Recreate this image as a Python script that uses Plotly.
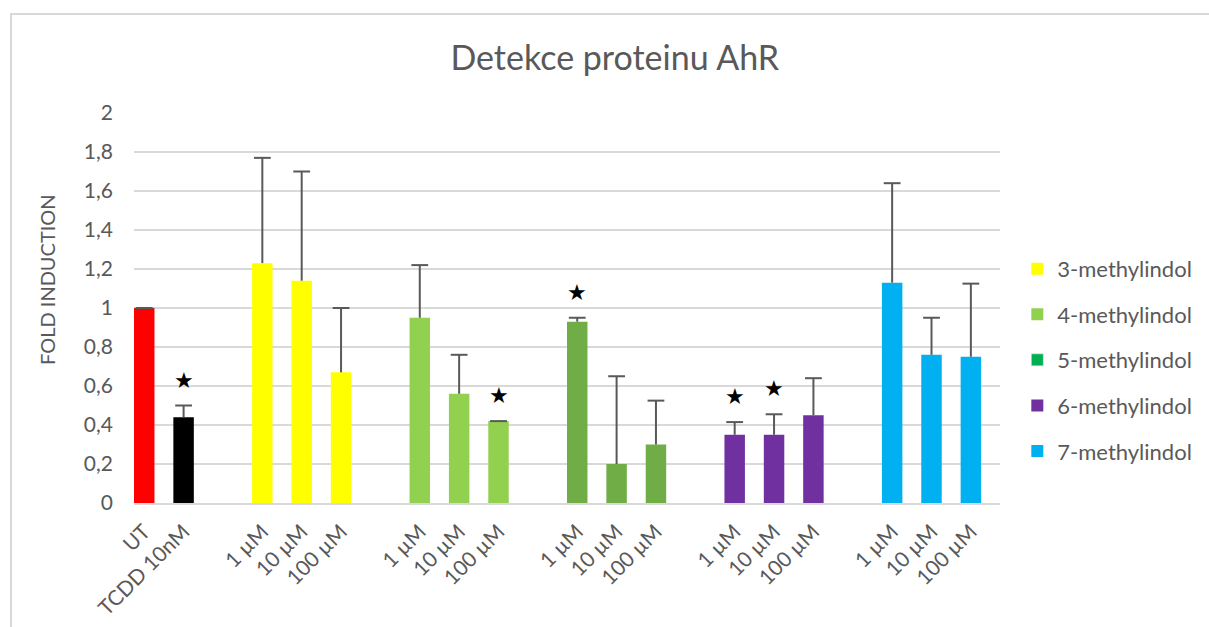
import plotly.graph_objects as go

# Controls
ctrl_labels = ["UT", "TCDD 10nM"]
ctrl_values = [1.00, 0.44]
ctrl_err_top = [1.00, 0.50]
ctrl_colors = ["#FF0000", "#000000"]

# Concentration series (one group of three bars per compound)
conc_labels = ["1 µM", "10 µM", "100 µM"]
series_names = ["3-methylindol", "4-methylindol", "5-methylindol", "6-methylindol", "7-methylindol"]
values_3 = [1.23, 1.14, 0.67]
values_4 = [0.95, 0.56, 0.42]
values_5 = [0.93, 0.20, 0.30]
values_6 = [0.35, 0.35, 0.45]
values_7 = [1.13, 0.76, 0.75]
err_top_3 = [1.77, 1.70, 1.00]
err_top_4 = [1.22, 0.76, 0.42]
err_top_5 = [0.95, 0.65, 0.525]
err_top_6 = [0.415, 0.455, 0.64]
err_top_7 = [1.64, 0.95, 1.125]

# Significance markers: (series index or "ctrl", bar index)
significant = [("ctrl", 1), (1, 2), (2, 0), (3, 0), (3, 1)]

bar_colors = ["#FFFF00", "#92D050", "#70AD47", "#7030A0", "#00B0F0"]
legend_colors = ["#FFFF00", "#92D050", "#00B050", "#7030A0", "#00B0F0"]

all_values = [values_3, values_4, values_5, values_6, values_7]
all_err = [err_top_3, err_top_4, err_top_5, err_top_6, err_top_7]

TXT = "#595959"
ERR = "#595959"
FONT = "Lato"
BAR_W = 0.52

fig = go.Figure()

# x positions: controls at 0,1; each compound group after a one-slot gap
ctrl_x = [0, 1]
group_x = [[3 + 4 * g + i for i in range(3)] for g in range(5)]

# upward whisker only (no caps from the error bar itself; the cap is a marker)
err_style = dict(type="data", symmetric=False, color=ERR, thickness=2, width=0)


def add_bars(x, vals, tops, colors, name, showlegend):
    fig.add_trace(go.Bar(
        x=x, y=vals, width=BAR_W, name=name,
        marker=dict(color=colors, line=dict(width=0)),
        error_y=dict(array=[t - v for t, v in zip(tops, vals)],
                     arrayminus=[0] * len(vals), **err_style),
        showlegend=showlegend, legendgroup=name, hoverinfo="skip",
    ))


def add_caps(x, tops):
    fig.add_trace(go.Scatter(
        x=x, y=tops, mode="markers", showlegend=False, hoverinfo="skip",
        marker=dict(symbol="line-ew", size=12, line=dict(color=ERR, width=2)),
    ))


add_bars(ctrl_x, ctrl_values, ctrl_err_top, ctrl_colors, "controls", False)

for g, name in enumerate(series_names):
    same = bar_colors[g] == legend_colors[g]
    if not same:
        # legend swatch with its own colour
        fig.add_trace(go.Bar(
            x=[None], y=[None], name=name, marker=dict(color=legend_colors[g]),
            legendgroup=name, showlegend=True,
        ))
    add_bars(group_x[g], all_values[g], all_err[g], bar_colors[g], name, same)

add_caps(ctrl_x, ctrl_err_top)
for g in range(5):
    add_caps(group_x[g], all_err[g])

# stars above significant bars
for s, i in significant:
    if s == "ctrl":
        xs, top = ctrl_x[i], ctrl_err_top[i]
    else:
        xs, top = group_x[s][i], all_err[s][i]
    fig.add_annotation(x=xs, y=top + 0.13, text="★", showarrow=False,
                       font=dict(family="DejaVu Sans", size=22, color="#000000"),
                       xref="x", yref="y")

# y-axis title
fig.add_annotation(x=(47 - 134) / 866, y=(503 - 280) / 390, xref="paper", yref="paper",
                   text="FOLD INDUCTION", textangle=-90, showarrow=False,
                   xanchor="center", yanchor="middle",
                   font=dict(family=FONT, size=20, color=TXT))

tickvals = ctrl_x + [x for grp in group_x for x in grp]
ticktext = ctrl_labels + conc_labels * 5

fig.update_layout(
    width=1209, height=627,
    margin=dict(l=134, r=209, t=113, b=124, autoexpand=False),
    paper_bgcolor="white", plot_bgcolor="white",
    font=dict(family=FONT, color=TXT, size=20),
    title=dict(text="Detekce proteinu AhR", x=0.5085, xanchor="center", y=0.907, yanchor="middle",
               font=dict(family=FONT, size=34, color=TXT)),
    barmode="overlay",
    legend=dict(x=1.02, xanchor="left", y=0.367, yanchor="middle",
                font=dict(family=FONT, size=22, color=TXT), tracegroupgap=14,
                bgcolor="rgba(0,0,0,0)"),
    xaxis=dict(range=[-0.26, 21.74], tickmode="array", tickvals=tickvals, ticktext=ticktext,
               tickangle=-45, showgrid=False, zeroline=False, showline=True, automargin=False,
               linecolor="#D9D9D9", linewidth=2, ticks="", ticklabelstandoff=6,
               tickfont=dict(family=FONT, size=21, color=TXT), fixedrange=True),
    yaxis=dict(range=[0, 2], dtick=0.2, tick0=0, showgrid=True, gridcolor="#D9D9D9", gridwidth=2,
               zeroline=False, showline=False, ticks="", ticklabelstandoff=20, automargin=False,
               exponentformat="none",
               tickfont=dict(family=FONT, size=21, color=TXT), fixedrange=True),
    separators=", ",
)

# chart-area border (left and top edges show within the view)
fig.add_shape(type="rect", xref="paper", yref="paper",
              x0=(11 - 134) / 866, x1=(1240 - 134) / 866,
              y0=(503 - 660) / 390, y1=(503 - 14) / 390,
              line=dict(color="#D9D9D9", width=2), fillcolor="rgba(0,0,0,0)", layer="below")

fig.write_html("out.html")
